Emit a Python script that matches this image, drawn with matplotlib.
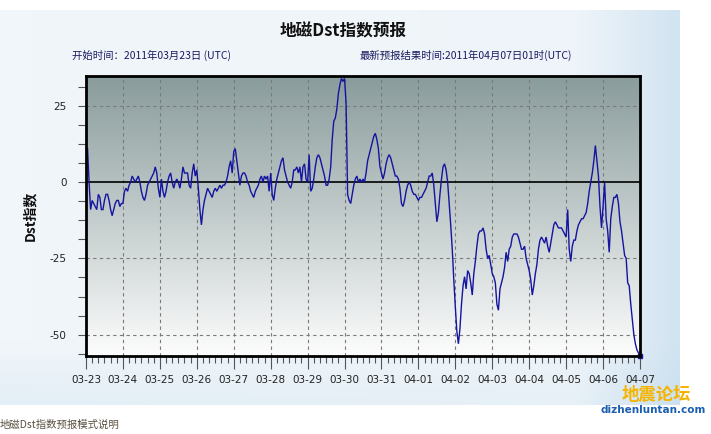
import numpy as np
import matplotlib
matplotlib.use("Agg")
import matplotlib.pyplot as plt
from matplotlib.ticker import MultipleLocator, FixedLocator

plt.rcParams['font.family'] = ['Noto Sans CJK SC', 'DejaVu Sans']

# Hourly Dst values from 2011-03-23 00h (UTC), 24 per day
day00 = [11, 11, 0, -9, -6, -7, -8, -9, -4, -5, -9, -9, -6, -4, -4, -6, -9, -11, -9, -7, -6, -6, -8, -7]
day01 = [-7, -3, -2, -3, -1, 0, 2, 1, 0, 1, 2, 0, -3, -5, -6, -4, -1, 0, 1, 2, 3, 5, 3, -2]
day02 = [-5, 1, -3, -5, -3, 0, 2, 3, 0, -2, 0, 1, 0, -2, 1, 5, 3, 3, 3, -1, -2, 3, 6, 2]
day03 = [4, -2, -9, -14, -9, -6, -4, -2, -3, -4, -5, -3, -2, -3, -2, -1, -2, -1, -1, 0, 2, 5, 7, 3]
day04 = [10, 11, 7, 3, -1, 2, 3, 3, 2, 0, -1, -3, -4, -5, -3, -2, -1, 1, 2, 0, 2, 1, 2, -3]
day05 = [3, -4, -6, -2, 1, 3, 5, 7, 8, 4, 2, 0, -1, -2, 0, 4, 4, 5, 3, 5, 0, 5, 6, 1]
day06 = [0, 9, -3, -2, 1, 5, 8, 9, 8, 6, 4, 2, -1, -1, 1, 5, 14, 20, 21, 24, 29, 32, 34, 33]
day07 = [34, 26, -4, -6, -7, -4, -1, 1, 2, 0, 1, 0, 1, 0, 3, 7, 9, 11, 13, 15, 16, 14, 11, 5]
day08 = [3, 1, 3, 6, 8, 9, 8, 6, 4, 2, 2, 1, -2, -7, -8, -6, -3, -1, 0, -1, -3, -4, -4, -5]
day09 = [-6, -5, -5, -4, -3, -2, 0, 2, 2, 3, -1, -7, -13, -10, -4, 1, 5, 6, 4, 0, -7, -14, -22, -32]
day10 = [-41, -49, -53, -48, -40, -34, -31, -35, -29, -30, -33, -37, -30, -26, -21, -17, -16, -16, -15, -17, -22, -25, -24, -27]
day11 = [-30, -31, -33, -40, -42, -35, -33, -31, -28, -23, -26, -22, -21, -18, -17, -17, -17, -18, -20, -22, -22, -21, -25, -27]
day12 = [-29, -32, -37, -34, -30, -27, -22, -19, -18, -19, -20, -18, -21, -23, -20, -17, -14, -13, -14, -15, -15, -15, -16, -17]
day13 = [-18, -9, -22, -26, -21, -19, -19, -16, -14, -13, -12, -12, -11, -10, -7, -3, 0, 3, 7, 12, 7, 2, -8, -15]
day14 = [-8, 0, -12, -16, -23, -12, -8, -5, -5, -4, -7, -13, -16, -20, -24, -25, -33, -34, -40, -45, -50, -53, -55, -56]
day15 = [-57]

dst = np.array(day00 + day01 + day02 + day03 + day04 + day05 + day06 + day07 +
               day08 + day09 + day10 + day11 + day12 + day13 + day14 + day15, float)
hours = np.arange(len(dst))

date_labels = ['03-23', '03-24', '03-25', '03-26', '03-27', '03-28', '03-29', '03-30',
               '03-31', '04-01', '04-02', '04-03', '04-04', '04-05', '04-06', '04-07']
y_major = [25, 0, -25, -50]

title = '地磁Dst指数预报'
sub_left = '开始时间：2011年03月23日 (UTC)'
sub_right = '最新预报结果时间:2011年04月07日01时(UTC)'
ylabel = 'Dst指数'
footer = '地磁Dst指数预报模式说明'

W, H = 711, 434
fig = plt.figure(figsize=(W / 100, H / 100), dpi=100)
fig.patch.set_facecolor('white')

# sky-like background
bg = fig.add_axes([0, 29 / H, 680 / W, 1 - 39 / H], zorder=-5)
ny, nx = 60, 100
xx = np.linspace(0, 1, nx)[None, :]
yy = np.linspace(0, 1, ny)[:, None]
c_light = np.array([0.945, 0.965, 0.98])
c_blue = np.array([0.80, 0.88, 0.94])
t = np.clip((xx - 0.85) / 0.15, 0, 1) * 0.75 + np.clip((yy - 0.85) / 0.15, 0, 1) * 0.35 * (1 - xx * 0.5)
t = np.clip(t + 0.08 * xx, 0, 1)
img = c_light[None, None, :] * (1 - t[..., None]) + c_blue[None, None, :] * t[..., None]
bg.imshow(img, aspect='auto', extent=[0, 1, 1, 0], interpolation='bicubic')
bg.axis('off')

ax = fig.add_axes([86 / W, 1 - 356 / H, (640 - 86) / W, (356 - 76) / H])
ymin, ymax = -57.0, 34.8
xmin, xmax = 0, 15 * 24

# plot gradient
grad = np.linspace(0, 1, 200)[:, None]
top = np.array([0.54, 0.61, 0.61])
bot = np.array([0.99, 0.99, 0.99])
gimg = top[None, None, :] * (1 - grad[..., None]) + bot[None, None, :] * grad[..., None]
ax.imshow(gimg, aspect='auto', extent=[xmin, xmax, ymin, ymax], zorder=0, interpolation='bicubic')

ax.set_xlim(xmin, xmax)
ax.set_ylim(ymin, ymax)

for d in range(1, 15):
    ax.axvline(d * 24, color='#7a7a7a', lw=0.8, ls=(0, (3, 3)), zorder=1)
for yv in [25, -25, -50]:
    ax.axhline(yv, color='#7a7a7a', lw=0.8, ls=(0, (3, 3)), zorder=1)
ax.axhline(0, color='black', lw=1.2, zorder=2)

ax.plot(hours, dst, color='#1414a0', lw=1.0, zorder=3, solid_joinstyle='miter')
ax.plot(hours[-1:], dst[-1:], 's', color='#1414a0', ms=3, zorder=4, clip_on=False)

ax.xaxis.set_major_locator(FixedLocator([d * 24 for d in range(len(date_labels))]))
ax.set_xticklabels(date_labels)
ax.xaxis.set_minor_locator(MultipleLocator(4))
ax.yaxis.set_major_locator(FixedLocator(y_major))
ax.set_yticklabels([str(v) for v in y_major])
ax.yaxis.set_minor_locator(MultipleLocator(6.25))

ax.tick_params(axis='x', which='major', length=9, width=0.8, color='#555555', labelsize=7.5, pad=5, labelcolor='#222222')
ax.tick_params(axis='x', which='minor', length=5, width=0.8, color='#555555')
ax.tick_params(axis='y', which='both', length=6, width=0.8, color='#555555', labelsize=7.5, pad=8, labelcolor='#222222')
for lab in ax.get_xticklabels() + ax.get_yticklabels():
    lab.set_family(['DejaVu Sans'])

for sp in ax.spines.values():
    sp.set_linewidth(2)
    sp.set_color('black')
    sp.set_zorder(5)

ax.set_ylabel(ylabel, fontsize=10, fontweight='bold', labelpad=9, color='#111111')

fig.text(343 / W, 1 - 31 / H, title, ha='center', va='center', fontsize=12, fontweight='bold', color='#111111')
fig.text(72 / W, 1 - 55 / H, sub_left, ha='left', va='center', fontsize=7.5, color='#1a1a60')
fig.text(360 / W, 1 - 55 / H, sub_right, ha='left', va='center', fontsize=7.5, color='#1a1a60')
fig.text(0, 1 - 425 / H, footer, ha='left', va='center', fontsize=7.5, color='#5a5040')

fig.text(656 / W, 1 - 395 / H, '地震论坛', ha='center', va='center', fontsize=12.5, fontweight='bold',
         color='#f5b400', style='italic')
fig.text(653 / W, 1 - 410 / H, 'dizhenluntan.com', ha='center', va='center', fontsize=7.5, fontweight='bold',
         color='#1b5fb0', family=['DejaVu Sans'])

fig.savefig('out.png', dpi=100, facecolor=fig.get_facecolor())
